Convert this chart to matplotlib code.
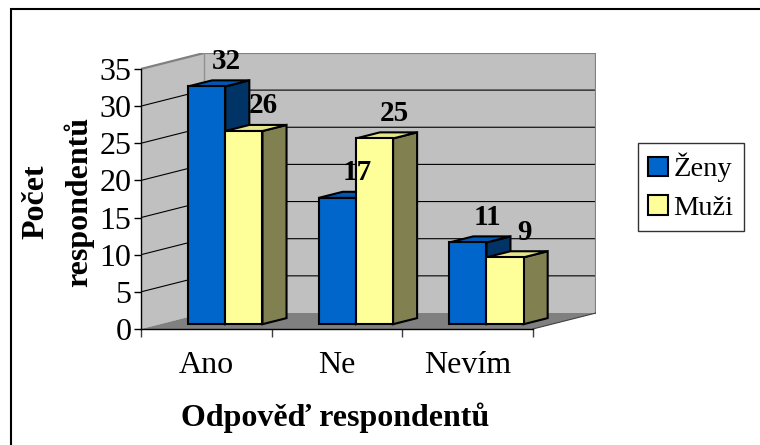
import matplotlib
matplotlib.use("Agg")
import matplotlib.pyplot as plt
from matplotlib.patches import Rectangle, Patch

plt.rcParams['font.family'] = ['Liberation Serif', 'DejaVu Serif']

categories = ["Ano", "Ne", "Nevím"]
series_names = ["Ženy", "Muži"]
zeny = [32, 17, 11]
muzi = [26, 25, 9]
yticks = [0, 5, 10, 15, 20, 25, 30, 35]
ylabel = "Počet\nrespondentů"
xlabel = "Odpověď respondentů"

front_colors = ["#0066CC", "#FFFF99"]
top_colors = ["#0058B4", "#E6E68A"]
side_colors = ["#003366", "#808050"]

DX = 63 / 130.0    # depth shift in category units
DY = 16 / 7.43     # depth shift in value units
F1, F2 = 0.30, 0.68
W = 0.285
YMAX = 35

fig = plt.figure(figsize=(7.6, 4.45), dpi=100)
ax = fig.add_axes([141 / 760, (445 - 329) / 445, 455 / 760, (YMAX + DY) * 7.43 / 445])
ax.set_xlim(-0.5, 2.5 + DX)
ax.set_ylim(0, YMAX + DY)
ax.patch.set_visible(False)

x0, x1 = -0.5, len(categories) - 0.5
# walls and floor
ax.fill([x0, x0, x0 + DX, x0 + DX], [0, YMAX, YMAX + DY, DY], color="#C0C0C0", lw=0, zorder=0)
ax.fill([x0 + DX, x1 + DX, x1 + DX, x0 + DX], [DY, DY, YMAX + DY, YMAX + DY], color="#C0C0C0", lw=0, zorder=0)
ax.fill([x0, x1, x1 + DX, x0 + DX], [0, 0, DY, DY], color="#808080", lw=0, zorder=0)
# gridlines
for v in yticks[1:-1]:
    ax.plot([x0, x0 + DX, x1 + DX], [v, v + DY, v + DY], color="black", lw=0.8, zorder=1)
# wall edges
ax.plot([x0, x0 + DX, x1 + DX, x1 + DX], [YMAX, YMAX + DY, YMAX + DY, DY], color="#808080", lw=1.6, zorder=1, solid_joinstyle="miter")
ax.plot([x0 + DX, x0 + DX], [DY, YMAX + DY], color="#909090", lw=1.0, zorder=1)
ax.plot([x1, x1 + DX], [0, DY], color="#404040", lw=0.8, zorder=1)

# bars
dd = F2 - F1
base = F1 * DY
for i in range(len(categories)):
    for j, vals in enumerate([zeny, muzi]):
        v = vals[i]
        xl = i - W + F1 * DX + j * W
        xr = xl + W
        z = 3 + i * 2 + j
        ax.fill([xr, xr + dd * DX, xr + dd * DX, xr], [base, base + dd * DY, base + v + dd * DY, base + v],
                facecolor=side_colors[j], edgecolor="black", lw=1.5, zorder=z, joinstyle="miter")
        ax.fill([xl, xr, xr + dd * DX, xl + dd * DX], [base + v, base + v, base + v + dd * DY, base + v + dd * DY],
                facecolor=top_colors[j], edgecolor="black", lw=1.5, zorder=z, joinstyle="miter")
        ax.bar(xl, v, width=W, bottom=base, align="edge", facecolor=front_colors[j],
               edgecolor="black", lw=1.5, zorder=z)
        ax.text(xl + W / 2 + 0.15, base + v + 3.4, str(v), ha="center", va="center",
                fontsize=21, fontweight="bold", zorder=20)

# axes
for s in ["top", "right"]:
    ax.spines[s].set_visible(False)
ax.spines["left"].set_bounds(0, YMAX)
ax.spines["bottom"].set_bounds(x0, x1)
ax.spines["left"].set_zorder(2)
ax.spines["bottom"].set_zorder(2)
ax.spines["left"].set_linewidth(1.0)
ax.spines["bottom"].set_linewidth(1.0)
ax.set_yticks(yticks)
ax.set_yticklabels([str(t) for t in yticks], fontsize=23)
ax.tick_params(axis="y", direction="out", length=5, width=1, pad=2)
ax.set_xticks([x0 + k for k in range(len(categories) + 1)])
ax.set_xticklabels([])
ax.tick_params(axis="x", which="major", direction="out", length=6, width=1, color="#404040")
ax.set_xticks(range(len(categories)), minor=True)
ax.set_xticklabels(categories, minor=True, fontsize=23)
ax.tick_params(axis="x", which="minor", length=0, pad=16)

fig.text(58 / 760, 1 - 202 / 445, ylabel, rotation=90, ha="center", va="center",
         fontsize=23, fontweight="bold", linespacing=1.55)
fig.text(335 / 760, 1 - 418 / 445, xlabel, ha="center", va="center", fontsize=23, fontweight="bold")

handles = [Patch(facecolor=front_colors[k], edgecolor="black", lw=1.5) for k in range(2)]
leg = fig.legend(handles, series_names, loc="upper left", bbox_to_anchor=(638 / 760, 1 - 143 / 445),
                 fontsize=20.5, frameon=True, fancybox=False, handlelength=0.7, handleheight=0.7,
                 handletextpad=0.2, borderpad=0.35, labelspacing=0.45, borderaxespad=0)
leg.get_frame().set_edgecolor("black")
leg.get_frame().set_linewidth(1.0)

fig.add_artist(Rectangle((11 / 760, -0.1), 1.0, (445 - 9) / 445 + 0.1, transform=fig.transFigure,
                         fill=False, edgecolor="black", lw=1.5))

fig.savefig("out.png", dpi=100)
